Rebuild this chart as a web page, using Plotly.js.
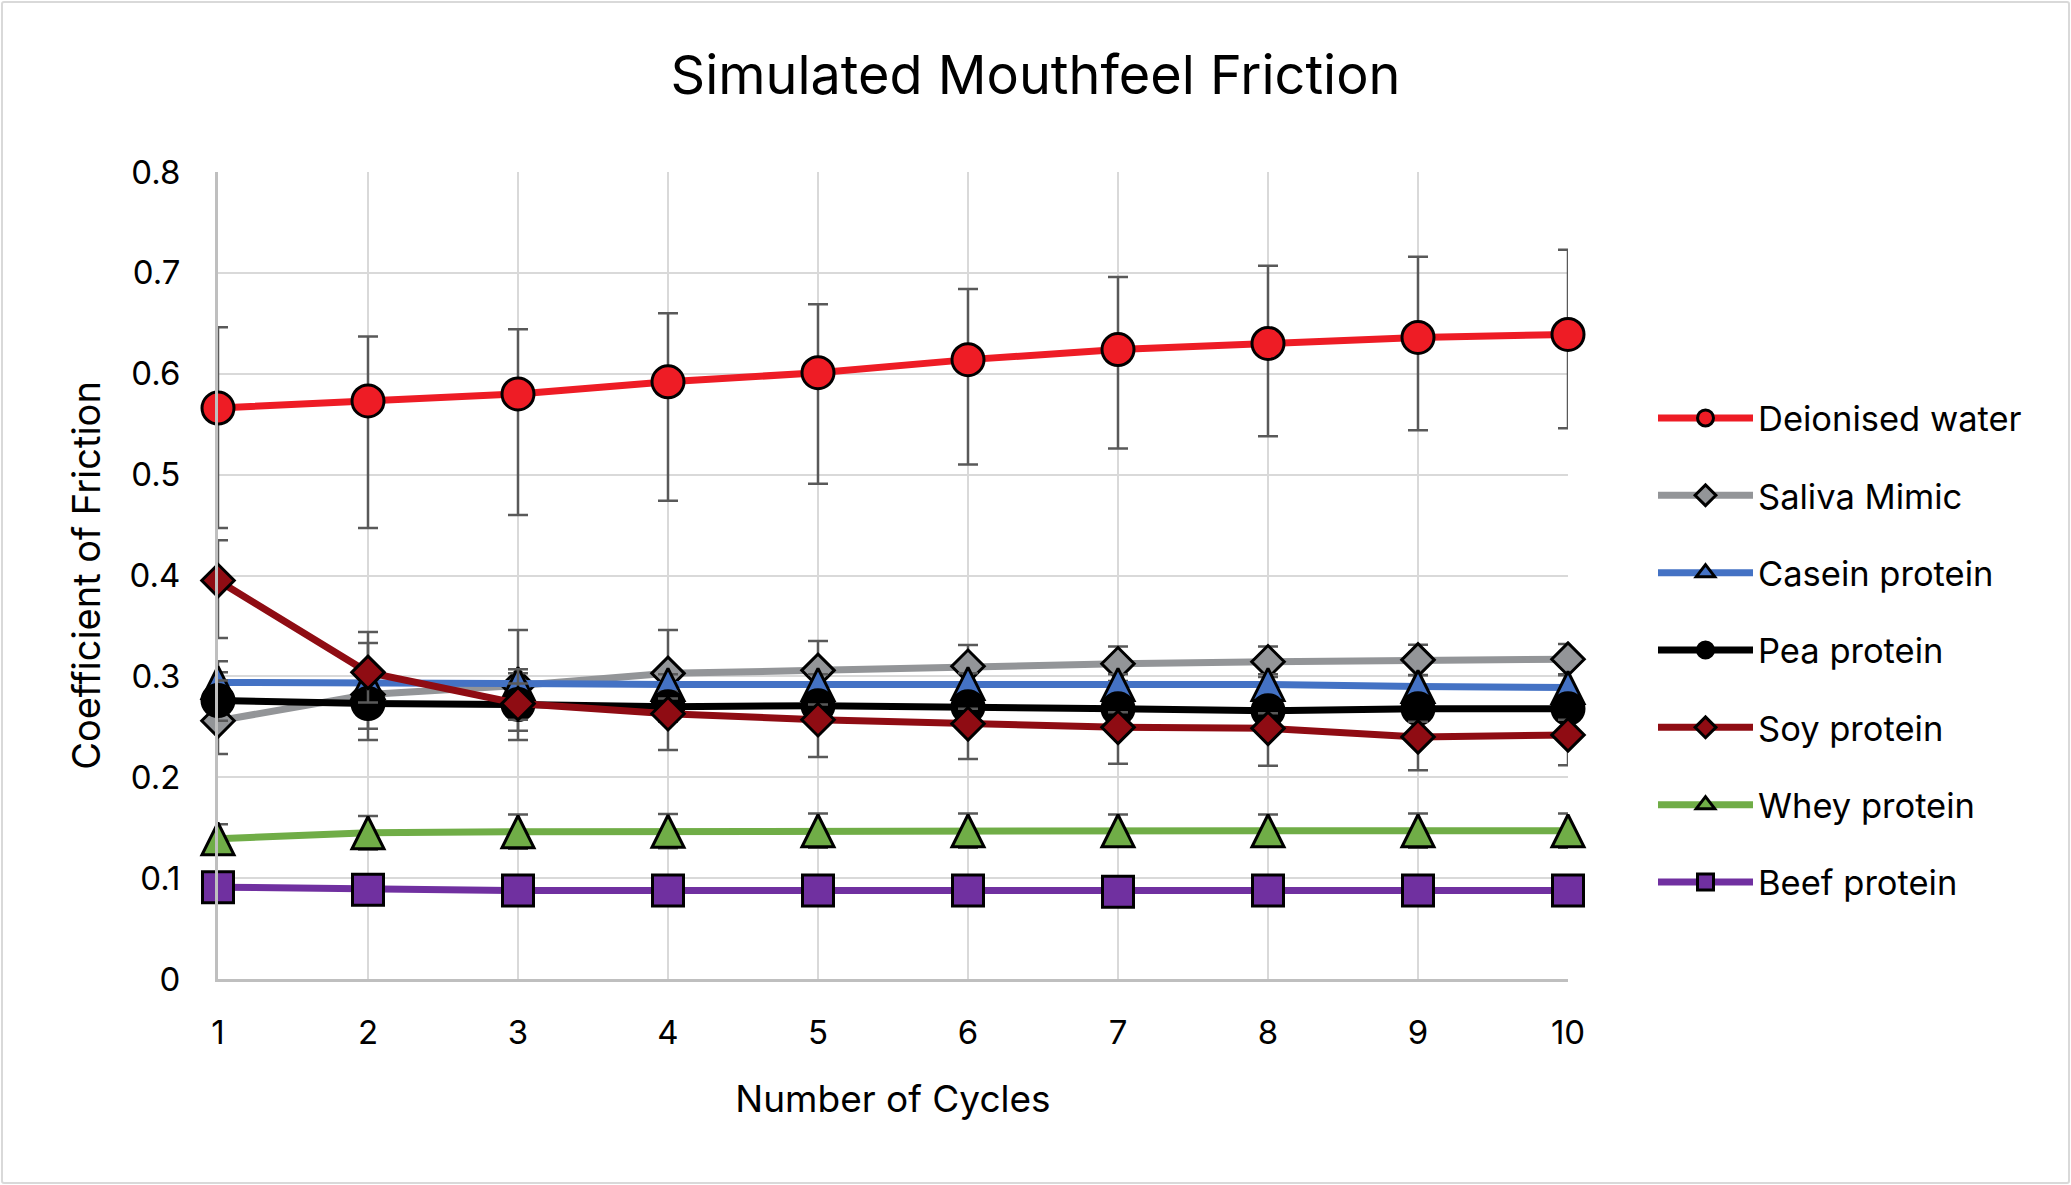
<!DOCTYPE html>
<html>
<head>
<meta charset="utf-8">
<script src="https://cdn.plot.ly/plotly-3.0.1.min.js"></script>
<style>
  body { margin: 0; background: #fff; }
  #wrap { position: relative; width: 2071px; height: 1185px; }
  #plot { width: 2071px; height: 1185px; }
  #frame { position: absolute; left: 1px; top: 1px; right: 1px; bottom: 1px;
           border: 2px solid #d9d9d9; border-radius: 3px; pointer-events: none; }
</style>
</head>
<body>
<div id="wrap">
  <div id="plot"></div>
  <div id="frame"></div>
</div>
<script>
const cycles = [1, 2, 3, 4, 5, 6, 7, 8, 9, 10];

const waterMean = [0.566, 0.573, 0.580, 0.592, 0.601, 0.614, 0.624, 0.630, 0.636, 0.639];
const waterUp   = [0.080, 0.064, 0.064, 0.068, 0.068, 0.070, 0.072, 0.077, 0.080, 0.084];
const waterDown = [0.119, 0.126, 0.120, 0.118, 0.110, 0.104, 0.098, 0.092, 0.092, 0.093];

const salivaMean = [0.256, 0.282, 0.291, 0.303, 0.306, 0.310, 0.3125, 0.3145, 0.3164, 0.317];
const salivaUp   = [0.059, 0.062, 0.055, 0.043, 0.029, 0.021, 0.017, 0.015, 0.015, 0.015];
const salivaDown = [0.033, 0.045, 0.045, 0.035, 0.029, 0.021, 0.017, 0.015, 0.015, 0.015];

const caseinMean = [0.294, 0.294, 0.293, 0.292, 0.292, 0.293, 0.292, 0.292, 0.290, 0.289];
const caseinErr  = [0.010, 0.010, 0.010, 0.010, 0.010, 0.010, 0.010, 0.010, 0.011, 0.012];

const peaMean = [0.276, 0.273, 0.272, 0.270, 0.271, 0.270, 0.268, 0.266, 0.268, 0.268];
const peaErr  = [0.020, 0.025, 0.035, 0.015, 0.012, 0.012, 0.012, 0.012, 0.012, 0.012];

const soyMean = [0.395, 0.304, 0.273, 0.263, 0.257, 0.253, 0.2495, 0.2485, 0.240, 0.242];
const soyUp   = [0.040, 0.029, 0.020, 0.015, 0.015, 0.015, 0.015, 0.015, 0.015, 0.015];
const soyDown = [0.057, 0.030, 0.016, 0.036, 0.037, 0.035, 0.036, 0.037, 0.033, 0.030];

const wheyMean = [0.139, 0.145, 0.146, 0.1465, 0.147, 0.147, 0.147, 0.147, 0.147, 0.147];
const wheyErr  = [0.0145, 0.0165, 0.017, 0.017, 0.017, 0.017, 0.016, 0.016, 0.017, 0.017];

const beefMean = [0.091, 0.0885, 0.0877, 0.0877, 0.0877, 0.0877, 0.0865, 0.0877, 0.0877, 0.0877];
const beefErr  = [0.005, 0.005, 0.005, 0.005, 0.005, 0.005, 0.005, 0.005, 0.005, 0.005];

const FONT = 'Inter, "Open Sans", sans-serif';
const ERR_COLOR = '#595959';

function errBars(up, down) {
  return {
    type: 'data', symmetric: false, array: up, arrayminus: down,
    color: ERR_COLOR, thickness: 2.5, width: 10
  };
}

// triangles: arrow shape flipped so it sits centred on the point (Excel style),
// the legend gets a plain triangle-up proxy instead since it ignores the offset
function series(name, y, up, down, color, symbol, size) {
  const tri = symbol === 'triangle';
  const traces = [{
    type: 'scatter', mode: 'lines+markers', name: name, legendgroup: name,
    showlegend: !tri,
    x: cycles, y: y,
    cliponaxis: false,
    line: { color: color, width: 7 },
    marker: {
      symbol: tri ? 'arrow-down' : symbol,
      angle: tri ? 180 : 0,
      standoff: tri ? size / 2 : 0,
      size: size, color: color,
      line: { color: '#000', width: 3 }
    },
    error_y: errBars(up, down)
  }];
  if (tri) {
    traces.push({
      type: 'scatter', mode: 'lines+markers', name: name, legendgroup: name,
      x: [null], y: [null],
      line: { color: color, width: 7 },
      marker: { symbol: 'triangle-up', size: size, color: color, line: { color: '#000', width: 3 } }
    });
  }
  return traces;
}

const data = [].concat(
  series('Deionised water', waterMean, waterUp, waterDown, '#ee1c25', 'circle', 32),
  series('Saliva Mimic', salivaMean, salivaUp, salivaDown, '#939598', 'diamond', 25),
  series('Casein protein', caseinMean, caseinErr, caseinErr, '#4472c4', 'triangle', 32),
  series('Pea protein', peaMean, peaErr, peaErr, '#000000', 'circle', 32),
  series('Soy protein', soyMean, soyUp, soyDown, '#8f0c13', 'diamond', 25),
  series('Whey protein', wheyMean, wheyErr, wheyErr, '#70ad47', 'triangle', 32),
  series('Beef protein', beefMean, beefErr, beefErr, '#7030a0', 'square', 31)
);

const layout = {
  width: 2071,
  height: 1185,
  margin: { l: 218, r: 503, t: 172, b: 206 },
  paper_bgcolor: '#fff',
  plot_bgcolor: '#fff',
  font: { family: FONT, color: '#000' },
  showlegend: true,
  title: {
    text: 'Simulated Mouthfeel Friction',
    font: { family: FONT, size: 54, color: '#000' },
    x: 0.5, xref: 'container', xanchor: 'center',
    y: 1 - 75 / 1185, yref: 'container', yanchor: 'middle'
  },
  xaxis: {
    range: [1, 10],
    tickmode: 'array', tickvals: cycles, ticktext: cycles.map(String),
    showgrid: true, gridcolor: '#d9d9d9', gridwidth: 2,
    showline: true, linecolor: '#bfbfbf', linewidth: 3,
    zeroline: false, ticks: '',
    ticklabelstandoff: 22,
    tickfont: { family: FONT, size: 33, color: '#000' },
    title: { text: 'Number of Cycles', font: { family: FONT, size: 37, color: '#000' }, standoff: 36 }
  },
  yaxis: {
    range: [0, 0.8], dtick: 0.1, tick0: 0,
    showgrid: true, gridcolor: '#d9d9d9', gridwidth: 2,
    showline: true, linecolor: '#bfbfbf', linewidth: 3,
    zeroline: false, ticks: '',
    ticklabelstandoff: 28,
    tickfont: { family: FONT, size: 33, color: '#000' },
    title: { text: 'Coefficient of Friction', font: { family: FONT, size: 38, color: '#000' }, standoff: 18 }
  },
  legend: {
    xref: 'container', yref: 'container',
    x: 1653 / 2071, y: 1 - 389 / 1185,
    xanchor: 'left', yanchor: 'top',
    font: { family: FONT, size: 34.5, color: '#000' },
    itemwidth: 95,
    traceorder: 'grouped',
    tracegroupgap: 29.5,
    bgcolor: 'rgba(0,0,0,0)',
    borderwidth: 0
  }
};

Plotly.newPlot('plot', data, layout, { staticPlot: true, displayModeBar: false });
</script>
</body>
</html>
